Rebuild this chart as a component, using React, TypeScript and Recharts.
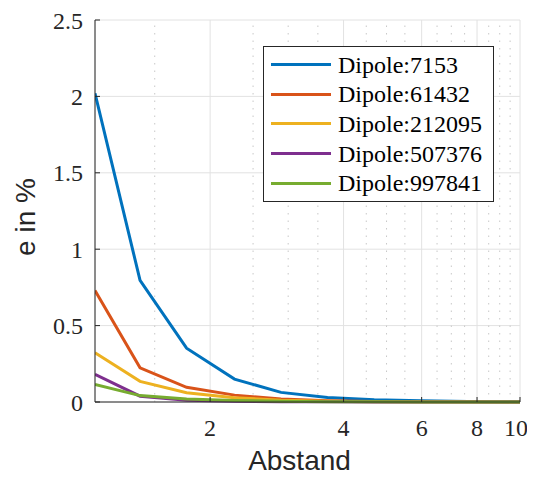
import { CartesianGrid, Legend, Line, LineChart, ReferenceLine, XAxis, YAxis } from "recharts";

const ABSTAND = [1.1, 1.39, 1.77, 2.27, 2.89, 3.68, 4.69, 5.98, 7.63, 10];
const DIPOLE_7153 = [2.02, 0.796, 0.352, 0.15, 0.063, 0.03, 0.015, 0.008, 0.004, 0.002];
const DIPOLE_61432 = [0.73, 0.224, 0.096, 0.045, 0.02, 0.009, 0.004, 0.002, 0.001, 0.0005];
const DIPOLE_212095 = [0.322, 0.135, 0.061, 0.028, 0.012, 0.005, 0.002, 0.001, 0.0005, 0.0002];
const DIPOLE_507376 = [0.181, 0.038, 0.012, 0.005, 0.002, 0.001, 0.0005, 0.0002, 0.0001, 0.0001];
const DIPOLE_997841 = [0.115, 0.042, 0.02, 0.01, 0.005, 0.002, 0.001, 0.0005, 0.0002, 0.0001];

const X_TICKS = [2, 4, 6, 8, 10];
const X_MINOR = [1.5, 2.5, 3, 3.5, 4.5, 5, 5.5, 6.5, 7, 7.5, 8.5, 9, 9.5];
const Y_TICKS = [0, 0.5, 1, 1.5, 2, 2.5];

const SERIES = [
  { key: "d1", name: "Dipole:7153", values: DIPOLE_7153, color: "#0072BD" },
  { key: "d2", name: "Dipole:61432", values: DIPOLE_61432, color: "#D95319" },
  { key: "d3", name: "Dipole:212095", values: DIPOLE_212095, color: "#EDB120" },
  { key: "d4", name: "Dipole:507376", values: DIPOLE_507376, color: "#7E2F8E" },
  { key: "d5", name: "Dipole:997841", values: DIPOLE_997841, color: "#77AC30" },
];

const data = ABSTAND.map((x, i) => {
  const row: Record<string, number> = { x };
  SERIES.forEach((s) => {
    row[s.key] = s.values[i];
  });
  return row;
});

const AXIS = "#262626";
const SERIF = "Liberation Serif";
const SANS = "Liberation Sans";

// last label pulled in a little so it is not clipped at the page edge
function XTick({ x, y, payload }: any) {
  const nudge = payload.value === X_TICKS[X_TICKS.length - 1] ? -4 : 0;
  return (
    <text x={x + nudge} y={y} dy="0.71em" textAnchor="middle" fontFamily={SERIF} fontSize={24} fill={AXIS}>
      {payload.value}
    </text>
  );
}

function XLabel({ viewBox }: any) {
  const cx = viewBox.x + viewBox.width / 2 - 8;
  return (
    <text x={cx} y={viewBox.y + 68} textAnchor="middle" fontFamily={SANS} fontSize={28} fill={AXIS}>
      Abstand
    </text>
  );
}

function YLabel({ viewBox }: any) {
  const cx = viewBox.x + 35;
  const cy = viewBox.y + viewBox.height / 2 + 6;
  return (
    <text x={cx} y={cy} transform={`rotate(-90 ${cx} ${cy})`} textAnchor="middle" fontFamily={SANS} fontSize={28} fill={AXIS}>
      e in %
    </text>
  );
}

// legend drawn from SERIES so the order stays as plotted
function LegendBox() {
  return (
    <div
      style={{
        background: "#fff",
        border: `1px solid ${AXIS}`,
        padding: "3px 0 3px 7px",
        width: 222,
        boxSizing: "content-box",
      }}
    >
      {SERIES.map((s) => (
        <div key={s.key} style={{ display: "flex", alignItems: "center", height: 29.6 }}>
          <div style={{ width: 60, height: 3, background: s.color, marginRight: 7 }} />
          <span style={{ fontFamily: SERIF, fontSize: 24, color: "#000", lineHeight: "24px" }}>{s.name}</span>
        </div>
      ))}
    </div>
  );
}

export default function App() {
  // cancel the body margin so chart coordinates equal page coordinates
  return (
    <div style={{ margin: -8, width: 535, height: 480 }}>
      <LineChart width={535} height={480} data={data} margin={{ top: 20, right: 15, bottom: 0, left: 0 }}>
        <CartesianGrid stroke="#e2e2e2" strokeWidth={1} />
        {X_MINOR.map((v) => (
          <ReferenceLine key={v} x={v} stroke="#c8c8c8" strokeDasharray="1.5 6" />
        ))}
        <XAxis
          dataKey="x"
          type="number"
          scale="log"
          domain={[1.1, 10]}
          ticks={X_TICKS}
          allowDataOverflow
          height={78}
          stroke={AXIS}
          tickSize={-5}
          tickMargin={22}
          tick={<XTick />}
          label={<XLabel />}
        />
        <XAxis
          xAxisId="top"
          orientation="top"
          dataKey="x"
          type="number"
          scale="log"
          domain={[1.1, 10]}
          ticks={X_TICKS}
          allowDataOverflow
          height={0}
          stroke={AXIS}
          tickSize={-5}
          tick={false}
        />
        <YAxis
          type="number"
          domain={[0, 2.5]}
          ticks={Y_TICKS}
          width={95}
          stroke={AXIS}
          tickSize={-5}
          tickMargin={17}
          tick={{ fontFamily: SERIF, fontSize: 24, fill: AXIS }}
          label={<YLabel />}
        />
        <YAxis
          yAxisId="right"
          orientation="right"
          type="number"
          domain={[0, 2.5]}
          ticks={Y_TICKS}
          width={0}
          stroke={AXIS}
          tickSize={-5}
          tick={false}
        />
        <Legend
          layout="horizontal"
          verticalAlign="middle"
          align="center"
          content={<LegendBox />}
          wrapperStyle={{ left: 263, top: 46, width: 230 }}
        />
        {SERIES.map((s) => (
          <Line
            key={s.key}
            dataKey={s.key}
            name={s.name}
            stroke={s.color}
            strokeWidth={3}
            dot={false}
            activeDot={false}
            isAnimationActive={false}
          />
        ))}
      </LineChart>
    </div>
  );
}
